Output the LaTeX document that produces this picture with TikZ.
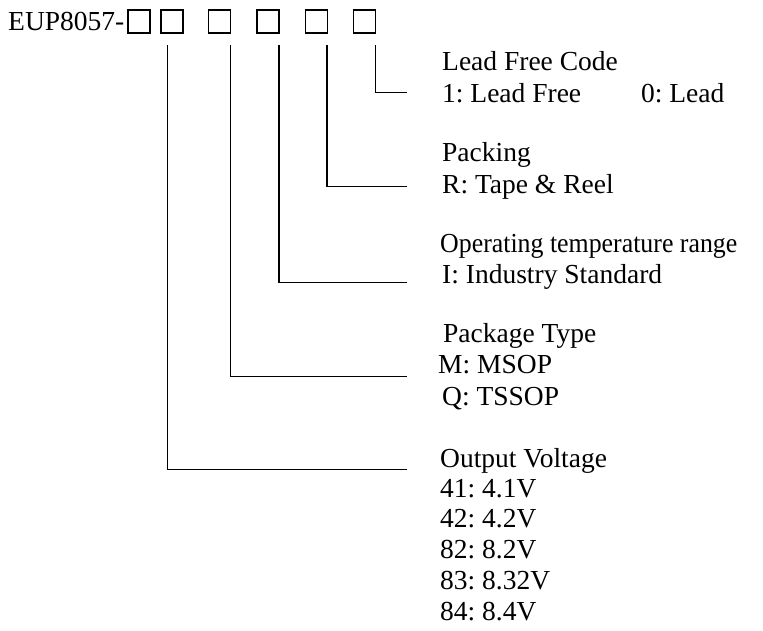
\documentclass[tikz,border=0pt]{standalone}
\usepackage{fontspec}
\setmainfont{Liberation Serif}
\frenchspacing
\begin{document}
\begin{tikzpicture}[x=1pt,y=-1pt,
  lbl/.style={anchor=base west, inner sep=0pt, font=\fontsize{27.5}{31}\selectfont\frenchspacing},
  digit/.style={draw, line width=1.3pt, minimum width=22pt, minimum height=23pt, inner sep=0pt},
  lead/.style={line width=1.3pt}]
\useasboundingbox (0,0) rectangle (763,630);
% part number
\node[lbl] (pn) at (8,30) {EUP8057-};
\node[digit] (b1) at (139,21.5) {};
\node[digit] (b2) at (172,21.5) {};
\node[digit] (b3) at (219.5,21.5) {};
\node[digit] (b4) at (268,21.5) {};
\node[digit] (b5) at (316.5,21.5) {};
\node[digit] (b6) at (364.5,21.5) {};
% descriptions
\node[lbl] (lf1) at (442,70) {Lead Free Code};
\node[lbl] (lf2) at (442,102) {1: Lead Free\hspace*{60pt}0: Lead};
\node[lbl] (pk1) at (442,161) {Packing};
\node[lbl] (pk2) at (442,193) {R: Tape \& Reel};
\node[lbl] (ot1) at (440,252) {\scalebox{0.94}[1]{Operating temperature range}};
\node[lbl] (ot2) at (442,283) {I: Industry Standard};
\node[lbl] (pt1) at (443,342) {Package Type};
\node[lbl] (pt2) at (438,373) {M: MSOP};
\node[lbl] (pt3) at (442,405) {Q: TSSOP};
\node[lbl] (ov1) at (440,467) {Output Voltage};
\node[lbl] (ov2) at (440,497) {41: 4.1V};
\node[lbl] (ov3) at (440,527.5) {42: 4.2V};
\node[lbl] (ov4) at (440,558.5) {82: 8.2V};
\node[lbl] (ov5) at (440,589) {83: 8.32V};
\node[lbl] (ov6) at (440,620) {84: 8.4V};
% connector tops and ends
\coordinate (t1) at (167.5,45);
\coordinate (t2) at (230.5,45);
\coordinate (t3) at (279,45);
\coordinate (t4) at (327,45);
\coordinate (t5) at (375.5,45);
\coordinate (e1) at (407,469.3);
\coordinate (e2) at (407,376.7);
\coordinate (e3) at (407,282.3);
\coordinate (e4) at (407,186.7);
\coordinate (e5) at (407,92.7);
\draw[lead] (t1) |- (e1);
\draw[lead] (t2) |- (e2);
\draw[lead] (t3) |- (e3);
\draw[lead] (t4) |- (e4);
\draw[lead] (t5) |- (e5);
\end{tikzpicture}
\end{document}
